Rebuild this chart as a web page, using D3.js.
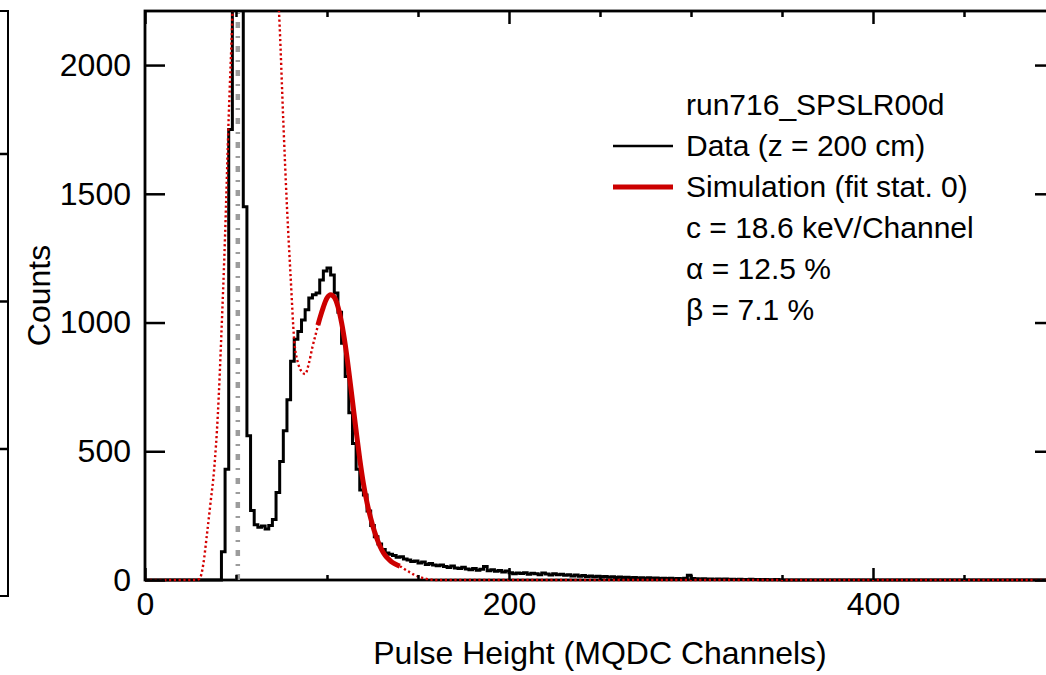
<!DOCTYPE html>
<html>
<head>
<meta charset="utf-8">
<script src="https://cdn.jsdelivr.net/npm/d3@7"></script>
<style>
    body { margin: 0; background: #fff; }
    text { font-family: "Liberation Sans", Arial, Helvetica, sans-serif; fill: #000; }
    .axis path.domain { display: none; }
    .axis line { stroke: #000; stroke-width: 2.5; }
    .axis text { font-size: 32px; }
</style>
</head>
<body>
<div id="plot"></div>
<script>
// Define variables
// ============================================================================
const width = 1046,
    height = 675,
    plot = {left: 145, top: 11, right: 1055, bottom: 580};

// Measured histogram (2-channel bins starting at channel 40)
const binStart = 40,
    binWidth = 2;
const dataCounts = [
    0, 110, 430, 1750, 3400, 5200, 3300, 1450, 560, 270,
    215, 205, 210, 198, 212, 235, 340, 460, 580, 700,
    850, 935, 965, 1010, 1050, 1095, 1108, 1115, 1165, 1200,
    1212, 1185, 1115, 1040, 920, 790, 650, 530, 430, 350,
    330, 268, 212, 168, 140, 118, 105, 100, 95, 88,
    90, 82, 78, 72, 74, 66, 70, 60, 64, 58,
    55, 58, 52, 49, 54, 47, 45, 50, 43, 40,
    45, 38, 42, 52, 36, 40, 34, 37, 31, 35,
    28, 24, 27, 25, 28, 22, 26, 24, 20, 27,
    23, 19, 24, 20, 22, 18, 20, 16, 19, 15,
    17, 14, 16, 13, 15, 12, 14, 11, 13, 10,
    12, 10, 11, 9, 10, 8, 9, 7, 9, 7,
    8, 6, 7, 6, 7, 5, 6, 5, 7, 18,
    6, 5, 4, 5, 4, 4, 3, 4, 3, 4,
    3, 3, 2, 3, 2, 2, 3, 2, 2, 1,
    2, 1, 1, 2, 1
];

// Full simulation (dotted)
const simChannels = [
    0, 28, 30, 32, 34, 36, 38, 40, 42, 44, 46, 48, 50, 52, 54, 56, 58, 60, 62, 64,
    66, 68, 70, 72, 74, 76, 78, 80, 82, 84, 86, 88, 90, 92, 94, 96, 98, 100, 102, 104,
    106, 108, 110, 112, 114, 116, 118, 120, 122, 124, 126, 128, 130, 132, 134, 136, 138, 140, 142, 144,
    146, 148, 150, 152, 154, 156, 158, 160, 500
];
const simCounts = [
    0, 0, 5, 60, 175, 300, 430, 640, 960, 1340, 1800, 2190, 2700, 3400, 4100, 4600, 4800, 4700, 4400, 3900,
    3400, 2950, 2650, 2420, 2150, 1780, 1450, 1180, 930, 845, 810, 800, 840, 905, 960, 1015, 1060, 1095, 1108, 1098,
    1062, 1000, 915, 810, 695, 580, 470, 375, 300, 240, 190, 150, 118, 95, 80, 68, 60, 54, 45, 36,
    28, 20, 14, 9, 5, 3, 1, 0, 0
];

// Simulation in the fit range (thick)
const fitChannels = [95, 96, 98, 100, 102, 104, 106, 108, 110, 112, 114, 116, 118, 120, 122, 124, 126, 128, 130, 132, 134, 136, 138, 140];
const fitCounts = [990, 1015, 1060, 1095, 1108, 1098, 1062, 1000, 915, 810, 695, 580, 470, 375, 300, 240, 190, 150, 118, 95, 80, 68, 60, 54];

// Pedestal marker
const pedestalChannel = 51;

// Ticks
const xMajor = [0, 200, 400],
    xMinor = [50, 100, 150, 250, 300, 350, 450],
    yMajor = [0, 500, 1000, 1500, 2000];

// Neighbouring panel (only its right edge is visible)
const sideTicks = [500, 1000, 1500];

// Legend
const legendTitle = "run716_SPSLR00d",
    legendLabels = ["Data (z = 200 cm)", "Simulation (fit stat. 0)"],
    fitParams = ["c = 18.6 keV/Channel", "α = 12.5 %", "β = 7.1 %"];

// Plot
// ============================================================================
const svg = d3.select("#plot")
    .append("svg")
        .attr("width", width)
        .attr("height", height);

// Scales
const xScale = d3.scaleLinear()
    .domain([0, 500])
    .range([plot.left, plot.right]);

const yScale = d3.scaleLinear()
    .domain([0, 2210])
    .range([plot.bottom, plot.top]);

// Clip at the top of the frame only, so curves lying on zero stay visible
svg.append("clipPath")
    .attr("id", "clip")
    .append("rect")
        .attr("x", plot.left)
        .attr("y", plot.top)
        .attr("width", plot.right - plot.left)
        .attr("height", plot.bottom - plot.top + 4);

// Neighbouring panel frame
const sideScale = d3.scaleLinear().domain([0, 1983]).range([596, plot.top]);
svg.append("rect")
    .attr("x", -50)
    .attr("y", sideScale(1983))
    .attr("width", 58)
    .attr("height", sideScale(0) - sideScale(1983))
    .attr("fill", "none")
    .attr("stroke", "#000")
    .attr("stroke-width", 2);
svg.append("g")
    .attr("class", "axis")
    .attr("transform", "translate(8,0)")
    .call(d3.axisRight(sideScale).tickValues(sideTicks).tickSize(-8).tickFormat(""));

// Frame
svg.append("rect")
    .attr("x", plot.left)
    .attr("y", plot.top)
    .attr("width", plot.right - plot.left)
    .attr("height", plot.bottom - plot.top)
    .attr("fill", "none")
    .attr("stroke", "#000")
    .attr("stroke-width", 2.8);

// Curves
const layer = svg.append("g").attr("clip-path", "url(#clip)");

// Pedestal line
layer.append("line")
    .attr("x1", xScale(pedestalChannel))
    .attr("x2", xScale(pedestalChannel))
    .attr("y1", yScale(0))
    .attr("y2", plot.top)
    .attr("stroke", "#9c9c9c")
    .attr("stroke-width", 4.5)
    .attr("stroke-dasharray", "6 8 2 8");

// Data histogram
let histPoints = [{ch: 0, v: 0}];
dataCounts.forEach((c, i) => {
    histPoints.push({ch: binStart + i * binWidth, v: c});
});
histPoints.push({ch: binStart + dataCounts.length * binWidth, v: 0});
histPoints.push({ch: 500, v: 0});

layer.append("path")
    .datum(histPoints)
    .attr("fill", "none")
    .attr("stroke", "#000")
    .attr("stroke-width", 3)
    .attr("d", d3.line()
        .curve(d3.curveStepAfter)
        .x(d => xScale(d.ch))
        .y(d => yScale(d.v)));

// Dotted full simulation
const simPoints = simChannels.map((c, i) => ({ch: c, v: simCounts[i]}));
layer.append("path")
    .datum(simPoints)
    .attr("fill", "none")
    .attr("stroke", "#d40000")
    .attr("stroke-width", 2.4)
    .attr("stroke-dasharray", "2.2 2.6")
    .attr("d", d3.line()
        .curve(d3.curveMonotoneX)
        .x(d => xScale(d.ch))
        .y(d => yScale(d.v)));

// Fit range simulation
const fitPoints = fitChannels.map((c, i) => ({ch: c, v: fitCounts[i]}));
layer.append("path")
    .datum(fitPoints)
    .attr("fill", "none")
    .attr("stroke", "#cc0000")
    .attr("stroke-width", 5)
    .attr("d", d3.line()
        .curve(d3.curveMonotoneX)
        .x(d => xScale(d.ch))
        .y(d => yScale(d.v)));

// Axes
svg.append("g")
    .attr("class", "axis")
    .attr("transform", "translate(0," + plot.bottom + ")")
    .call(d3.axisBottom(xScale).tickValues(xMajor).tickSize(-12).tickPadding(12).tickFormat(d3.format("d")));
svg.append("g")
    .attr("class", "axis")
    .attr("transform", "translate(0," + plot.bottom + ")")
    .call(d3.axisBottom(xScale).tickValues(xMinor).tickSize(-5).tickFormat(""));
svg.append("g")
    .attr("class", "axis")
    .attr("transform", "translate(0," + plot.top + ")")
    .call(d3.axisTop(xScale).tickValues(xMajor).tickSize(-13).tickFormat(""));
svg.append("g")
    .attr("class", "axis")
    .attr("transform", "translate(0," + plot.top + ")")
    .call(d3.axisTop(xScale).tickValues(xMinor).tickSize(-6).tickFormat(""));
svg.append("g")
    .attr("class", "axis")
    .attr("transform", "translate(" + plot.left + ",0)")
    .call(d3.axisLeft(yScale).tickValues(yMajor).tickSize(-20).tickPadding(14).tickFormat(d3.format("d")));
svg.append("g")
    .attr("class", "axis")
    .attr("transform", "translate(" + plot.right + ",0)")
    .call(d3.axisRight(yScale).tickValues(yMajor).tickSize(-20).tickFormat(""));

// Axis titles
svg.append("text")
    .attr("x", (plot.left + plot.right) / 2)
    .attr("y", 664)
    .attr("text-anchor", "middle")
    .style("font-size", "32px")
    .text("Pulse Height (MQDC Channels)");

svg.append("text")
    .attr("transform", "translate(50," + (plot.top + plot.bottom) / 2 + ") rotate(-90)")
    .attr("text-anchor", "middle")
    .style("font-size", "32px")
    .text("Counts");

// Legend
const legendX = 686,
    legendY = 115,
    legendStep = 41,
    legendRows = [legendTitle].concat(legendLabels, fitParams);

svg.append("g")
    .selectAll("text")
    .data(legendRows)
    .join("text")
        .attr("x", legendX)
        .attr("y", (d, i) => legendY + i * legendStep)
        .style("font-size", "30px")
        .text(d => d);

const legendStyles = [
    {stroke: "#000", width: 2.4},
    {stroke: "#cc0000", width: 5}
];
svg.append("g")
    .selectAll("line")
    .data(legendStyles)
    .join("line")
        .attr("x1", 613)
        .attr("x2", 673)
        .attr("y1", (d, i) => legendY + (i + 1) * legendStep - 10)
        .attr("y2", (d, i) => legendY + (i + 1) * legendStep - 10)
        .attr("stroke", d => d.stroke)
        .attr("stroke-width", d => d.width);
</script>
</body>
</html>
